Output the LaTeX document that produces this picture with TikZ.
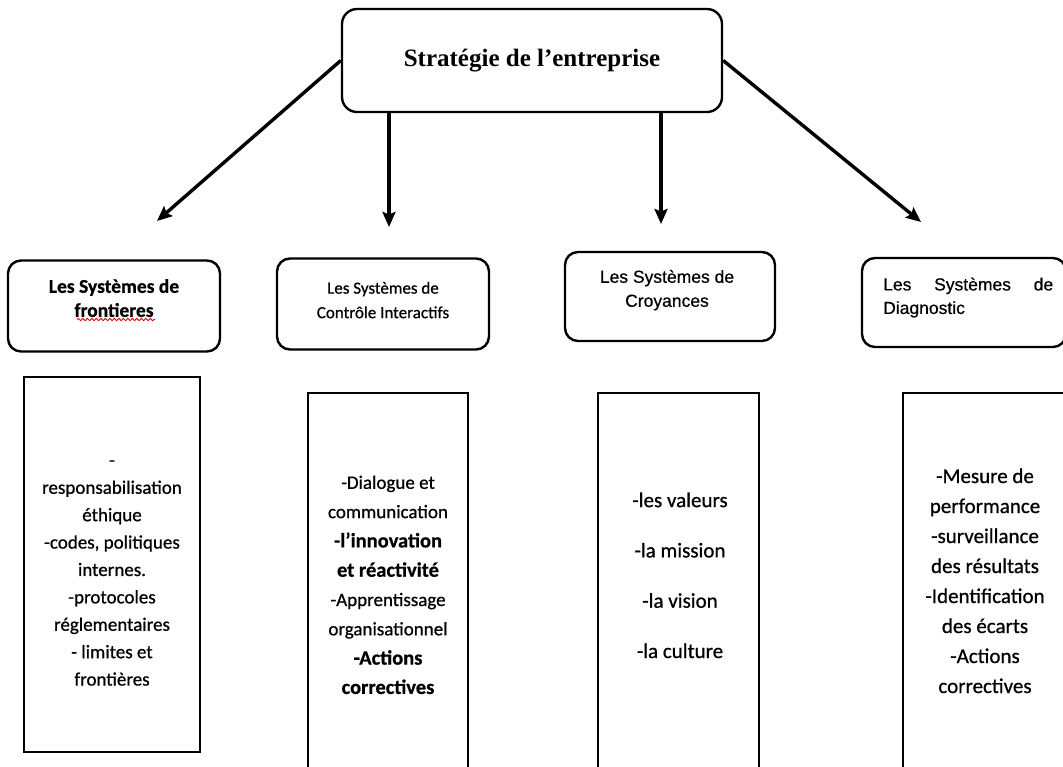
\documentclass[tikz,border=0pt]{standalone}
\usepackage{fontspec}
\setmainfont{Carlito}[FakeBold=0.7]
\newfontfamily\arialfont{Liberation Sans}[FakeBold=0.5]
\newfontfamily\timesfont{Liberation Serif}
\usetikzlibrary{arrows.meta,decorations.pathmorphing}

\begin{document}
\begin{tikzpicture}[x=1pt,y=-1pt,
  frame/.style={draw=black, line width=2.4pt},
  topbox/.style={frame, rounded corners=15pt, minimum width=380pt, minimum height=103pt, inner sep=0pt},
  sysbox/.style={frame, rounded corners=13pt, minimum width=#1, minimum height=91pt, inner sep=0pt},
  listbox/.style={draw=black, line width=2.2pt, minimum width=#1, inner sep=0pt},
  arrowline/.style={line width=3.4pt, -{Stealth[length=15pt,width=13pt,inset=2.5pt]}},
  listtext/.style={align=center, inner sep=0pt},
]
\useasboundingbox (0,0) rectangle (1063,766);
\clip (0,0) rectangle (1063,766);

% top: company strategy
\node[topbox, font=\timesfont\bfseries\fontsize{25}{30}\selectfont] (strat) at (532,60.5)
  {\raisebox{3pt}{Stratégie de l’entreprise}};

% the four control systems
\node[sysbox=212pt] (sys1) at (114,306) {};
\node[sysbox=212pt] (sys2) at (383,304) {};
\node[sysbox=210pt, minimum height=89pt] (sys3) at (670,296.5) {};
\node[sysbox=204pt, minimum height=89pt] (sys4) at (964,302.5) {};

\node[listtext, font=\bfseries\fontsize{19.5}{24}\selectfont] (sys1t) at (114,300)
  {\strut Les Systèmes de\\frontieres\strut};
\node[listtext, font=\fontsize{17}{24.5}\selectfont] (sys2t) at (383,301)
  {\strut Les Systèmes de\\Contrôle Interactifs\strut};
\node[listtext, font=\arialfont\fontsize{17.5}{24}\selectfont] (sys3t) at (667,290)
  {\strut Les Systèmes de\\Croyances\strut};
\node[align=left, inner sep=0pt, anchor=west, font=\arialfont\fontsize{17.5}{23.5}\selectfont] (sys4t) at (883,297.5)
  {\strut\makebox[170pt][s]{Les Systèmes de}\\Diagnostic\strut};

% spell-check squiggle under "frontieres"
\draw[red!85!black, line width=0.8pt, decorate,
      decoration={snake, amplitude=1.2pt, segment length=4.5pt}]
  (77,319.5) -- (155,319.5);

% arrows from the strategy box
\coordinate (e1) at (157,221);
\coordinate (e2) at (389,227);
\coordinate (e3) at (661,224);
\coordinate (e4) at (921,222);
\draw[arrowline] (strat.west) -- (e1);
\draw[arrowline] (strat.south -| e2) -- (e2);
\draw[arrowline] (strat.south -| e3) -- (e3);
\draw[arrowline] (strat.east) -- (e4);

% detail boxes
\node[listbox=176pt, minimum height=375pt] (det1) at (112,564.5) {};
\node[listbox=160pt, minimum height=407pt] (det2) at (388,596.5) {};
\node[listbox=161pt, minimum height=407pt] (det3) at (678.5,596.5) {};
\node[listbox=164pt, minimum height=407pt] (det4) at (985,596.5) {};

\node[listtext, font=\fontsize{19}{27.4}\selectfont] (det1t) at (112,570.5)
  {\strut -\\responsabilisation\\éthique\\-codes, politiques\\internes.\\-protocoles\\réglementaires\\- limites et\\frontières\strut};
\node[listtext, font=\fontsize{19}{29.3}\selectfont] (det2t) at (388,585.5)
  {\strut -Dialogue et\\communication\\{\fontsize{20.5}{29.3}\selectfont\bfseries -l’innovation}\\{\fontsize{20.5}{29.3}\selectfont\bfseries et réactivité}\\-Apprentissage\\organisationnel\\{\fontsize{20.5}{29.3}\selectfont\bfseries -Actions}\\{\fontsize{20.5}{29.3}\selectfont\bfseries correctives}\strut};
\node[listtext, font=\fontsize{21}{50.3}\selectfont] (det3t) at (680,572.5)
  {\strut -les valeurs\\-la mission\\-la vision\\-la culture\strut};
\node[listtext, font=\fontsize{21}{30}\selectfont] (det4t) at (985,582)
  {\strut -Mesure de\\performance\\-surveillance\\des résultats\\-Identification\\des écarts\\-Actions\\correctives\strut};
\end{tikzpicture}
\end{document}
